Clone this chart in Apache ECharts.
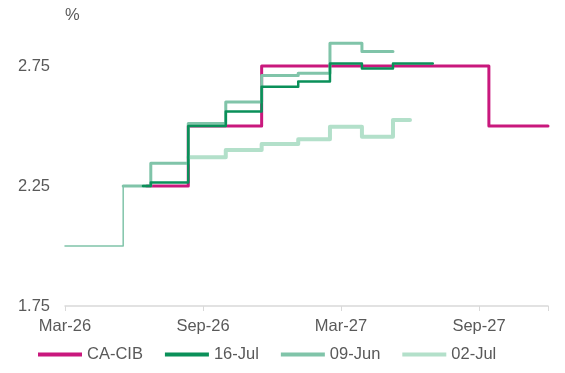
<!DOCTYPE html>
<html>
<head>
<meta charset="utf-8">
<script src="https://cdn.jsdelivr.net/npm/echarts@6/dist/echarts.min.js"></script>
<style>
    html, body { margin: 0; padding: 0; background: #fff; }
    #chart { width: 565px; height: 373px; }
</style>
</head>
<body>
<div id="chart"></div>
<script>
// x = months since Mar-26
let xTickLabels = ['Mar-26', 'Sep-26', 'Mar-27', 'Sep-27']
let yTicks = [1.75, 2.25, 2.75]

let history = [[0, 2.00], [2.53, 2.25]]
let caCib = [[3.55, 2.25], [5.36, 2.50], [8.55, 2.75], [18.43, 2.50], [21, 2.50]]
let jul16 = [[3.39, 2.25], [3.73, 2.265], [5.36, 2.50], [6.99, 2.56], [8.55, 2.664], [10.14, 2.685],
    [11.52, 2.76], [12.91, 2.74], [14.26, 2.76], [15.99, 2.76]]
let jun09 = [[2.53, 2.25], [3.73, 2.345], [5.36, 2.51], [6.99, 2.60], [8.55, 2.71], [10.14, 2.72],
    [11.52, 2.845], [12.91, 2.81], [14.26, 2.81]]
let jul02 = [[5.36, 2.37], [6.99, 2.40], [8.55, 2.425], [10.14, 2.445], [11.52, 2.497],
    [12.91, 2.455], [14.26, 2.525], [15.0, 2.525]]

let font = 'Liberation Sans, Arial, sans-serif'
let txt = '#595959'

let stepLine = (name, data, color, width) => ({
    name: name,
    type: 'line',
    step: 'end',
    symbol: 'none',
    data: data,
    lineStyle: { color: color, width: width, join: 'round', cap: 'round' },
    itemStyle: { color: color }
})

echarts.init(document.getElementById('chart')).setOption({
    animation: false,
    title: {
        text: '%',
        left: 60,
        top: 2,
        textStyle: { color: txt, fontSize: 16.5, fontWeight: 'normal', fontFamily: font }
    },
    grid: { left: 65, right: 17, top: 6, bottom: 67 },
    legend: {
        data: ['CA-CIB', '16-Jul', '09-Jun', '02-Jul'],
        left: 33,
        bottom: 5,
        icon: 'rect',
        itemWidth: 44,
        itemHeight: 4,
        itemGap: 22,
        textStyle: { color: txt, fontSize: 16.5, fontFamily: font }
    },
    xAxis: {
        type: 'value',
        min: 0,
        max: 21,
        interval: 6,
        axisLine: { lineStyle: { color: '#d9d9d9', width: 1.5 } },
        axisTick: { show: true, length: 5, lineStyle: { color: '#d9d9d9' } },
        splitLine: { show: false },
        axisLabel: {
            margin: 12,
            color: txt,
            fontSize: 16.5,
            fontFamily: font,
            formatter: v => xTickLabels[v / 6] || ''
        }
    },
    yAxis: {
        type: 'value',
        min: 1.75,
        max: 3.0,
        interval: 0.5,
        axisLine: { show: false },
        axisTick: { show: false },
        splitLine: { show: false },
        axisLabel: {
            margin: 15,
            color: txt,
            fontSize: 16.5,
            fontFamily: font,
            formatter: v => yTicks.some(t => Math.abs(t - v) < 1e-6) ? v.toFixed(2) : ''
        }
    },
    series: [
        stepLine('history', history, '#80c4a9', 1.5),
        stepLine('CA-CIB', caCib, '#c9187d', 3),
        stepLine('02-Jul', jul02, '#b3e0ca', 4),
        stepLine('09-Jun', jun09, '#80c4a9', 3),
        stepLine('16-Jul', jul16, '#0a9059', 2.5)
    ]
})
</script>
</body>
</html>
